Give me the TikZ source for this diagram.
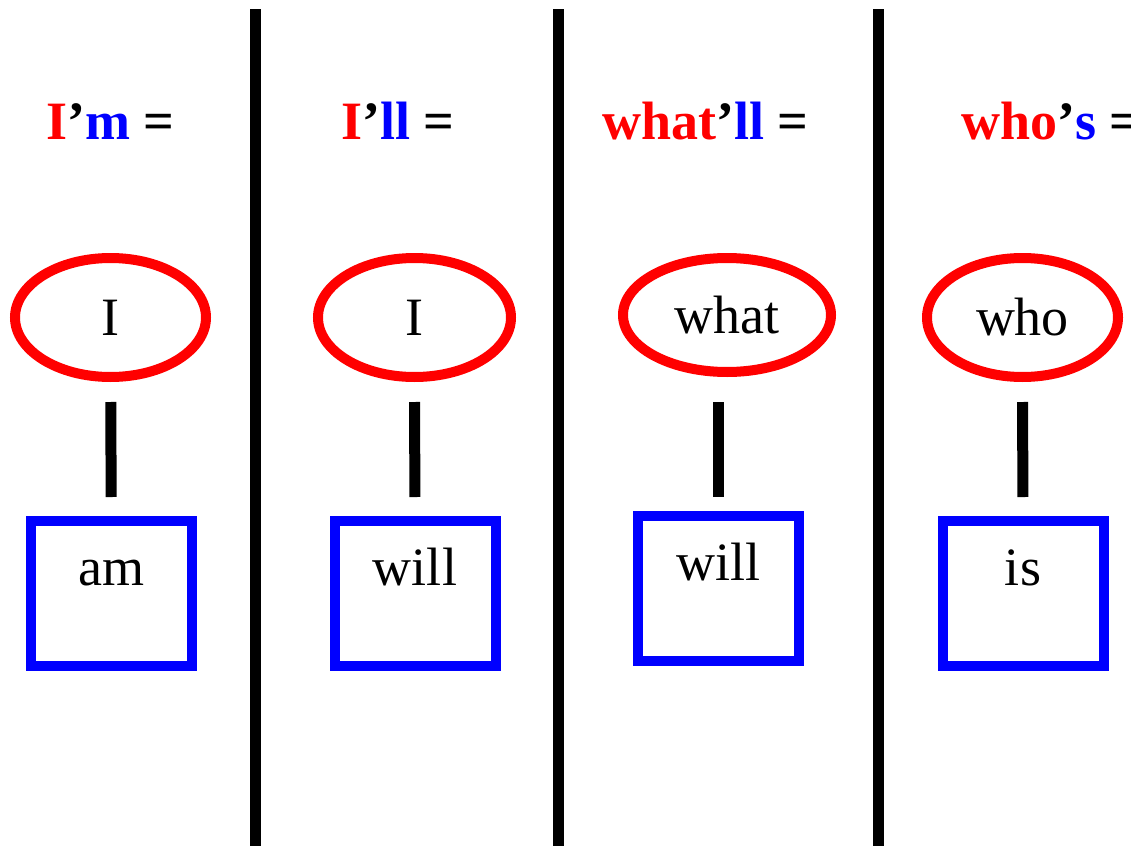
\documentclass[tikz,border=0pt]{standalone}
\usepackage{fontspec}
\setmainfont{Liberation Serif}
\usepackage{xcolor}
\usetikzlibrary{shapes, positioning}

\begin{document}
\begin{tikzpicture}[x=0.5pt, y=-0.5pt,
        word/.style={ellipse, draw=red, line width=5pt, inner sep=0pt, outer sep=0pt, font=\fontsize{27}{32}\selectfont},
        form/.style={rectangle, draw=blue, line width=5pt, inner sep=0pt, outer sep=0pt, minimum width=80.5pt, text height=32pt, text depth=40.5pt, font=\fontsize{27}{32}\selectfont},
        title/.style={anchor=base west, inner sep=0pt, font=\fontsize{27}{32}\selectfont\bfseries},
        stem/.style={line width=5.5pt, shorten <=12.5pt, shorten >=12pt},
        divider/.style={line width=5.5pt}]
            \useasboundingbox (0, 0) rectangle (1131, 846);

            % column dividers
            \coordinate (d1t) at (255, 9);
            \coordinate (d1b) at (255, 846);
            \coordinate (d2t) at (558, 9);
            \coordinate (d2b) at (558, 846);
            \coordinate (d3t) at (878, 9);
            \coordinate (d3b) at (878, 846);
            \draw[divider] (d1t) -- (d1b);
            \draw[divider] (d2t) -- (d2b);
            \draw[divider] (d3t) -- (d3b);

            % contractions
            \node[title] (t1) at (46, 139) {\textcolor{red}{I}’\textcolor{blue}{m} =};
            \node[title] (t2) at (341, 139) {\textcolor{red}{I}’\textcolor{blue}{ll} =};
            \node[title] (t3) at (602, 139) {\textcolor{red}{what}’\textcolor{blue}{ll} =};
            \node[title] (t4) at (961, 139) {\textcolor{red}{who}’\textcolor{blue}{s} =};

            % first words
            \node[word, minimum width=95.5pt, minimum height=59.5pt] (w1) at (110.5, 317.5) {I};
            \node[word, minimum width=96.5pt, minimum height=59.5pt] (w2) at (414.5, 317.5) {I};
            \node[word, minimum width=104pt, minimum height=57pt] (w3) at (727, 315) {what};
            \node[word, minimum width=95.5pt, minimum height=59.5pt] (w4) at (1022.5, 317.5) {who};

            % full forms
            \node[form, anchor=north] (f1) at (111.5, 521) {am};
            \node[form, anchor=north] (f2) at (415, 521) {will};
            \node[form, anchor=north] (f3) at (718.5, 516) {will};
            \node[form, anchor=north] (f4) at (1023, 521) {is};

            \draw[stem] (w1) -- (f1);
            \draw[stem] (w2) -- (f2);
            \draw[stem, shorten <=15pt, shorten >=9.5pt] (w3.south -| f3.north) -- (f3);
            \draw[stem] (w4) -- (f4);
        \end{tikzpicture}
\end{document}
